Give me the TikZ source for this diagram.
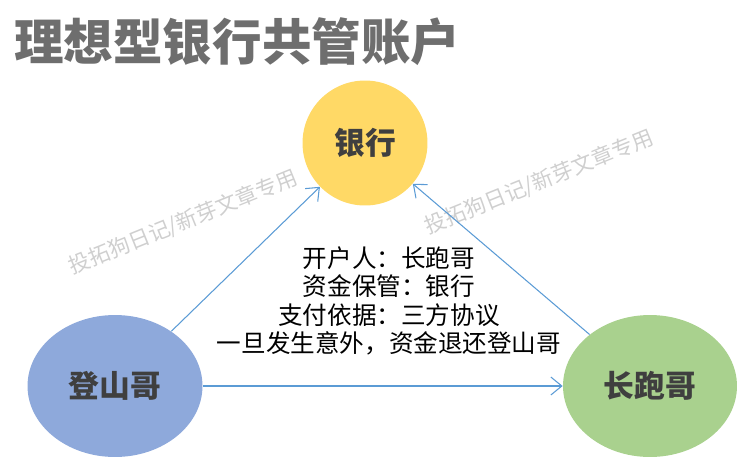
\documentclass[tikz,border=0pt]{standalone}
\usepackage{fontspec}
\setmainfont{Noto Sans CJK SC}
\newfontfamily\cjk{Noto Sans CJK SC}
\usetikzlibrary{shapes.geometric,arrows.meta}
\definecolor{bankyellow}{HTML}{FFD966}
\definecolor{climbblue}{HTML}{8EA9DB}
\definecolor{rungreen}{HTML}{A9D18E}
\definecolor{arrowblue}{HTML}{5B9BD5}
\definecolor{labelgray}{HTML}{3F3F3F}
\definecolor{titlegray}{HTML}{6E6E6E}
\definecolor{markgray}{HTML}{CFCFCF}
\begin{document}
\begin{tikzpicture}[x=0.02cm,y=-0.02cm]

    \tikzset{
      party/.style={
        ellipse,
        draw=none,
        inner sep=0pt,
        font={\cjk\bfseries\fontsize{17.5}{20}\selectfont},
        text={labelgray},
      },
      link/.style={
        color={arrowblue},
        line width=0.6pt,
        -{Straight Barb[length=2.2mm,width=3.6mm]},
      },
      watermark/.style={
        font={\cjk\fontsize{12.2}{14}\selectfont},
        text={markgray},
        rotate=22,
      },
    }
    \useasboundingbox (0,0) rectangle (741,468);
	\node [anchor=west,font={\cjk\bfseries\fontsize{28.2}{30}\selectfont},text={titlegray},inner sep=0pt] (title) at (14,42) {理想型银行共管账户};
	\node [watermark] (markleft) at (183,222) {投拓狗日记/新芽文章专用};
	\node [watermark] (markright) at (539,182) {投拓狗日记/新芽文章专用};
	\node [party,fill={bankyellow},minimum width=2.5cm,minimum height=2.5cm] (bank) at (365,143) {银行};
	\node [party,fill={climbblue},minimum width=3.5cm,minimum height=2.84cm] (climber) at (115,386) {登山哥};
	\node [party,fill={rungreen},minimum width=3.48cm,minimum height=2.84cm] (runner) at (650,386) {长跑哥};
	\node [align=center,font={\cjk\fontsize{14}{16.2}\selectfont},inner sep=0pt] (terms) at (389,301) {开户人：长跑哥\\资金保管：银行\\支付依据：三方协议\\一旦发生意外，资金退还登山哥};
	\draw[link] (climber)--(bank);
	\draw[link] (runner)--(bank);
	\draw[link] (climber)--(runner);

\end{tikzpicture}
\end{document}
